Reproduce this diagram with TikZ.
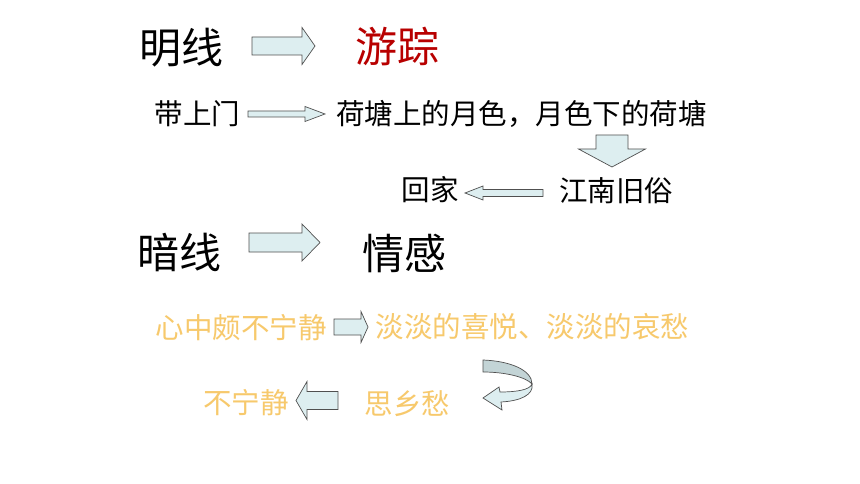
\documentclass[tikz,border=0pt]{standalone}
\usepackage{fontspec}
\newfontfamily\cjk{Noto Sans CJK SC}
\usetikzlibrary{calc}
\definecolor{arrfill}{HTML}{DDEEF0}
\definecolor{arrdark}{HTML}{C3D4D6}
\definecolor{arrline}{HTML}{505050}
\definecolor{redtxt}{HTML}{B80000}
\definecolor{yeltxt}{HTML}{F7C96C}
\tikzset{
  bigtxt/.style={inner sep=0pt, font=\cjk\fontsize{42}{42}\selectfont},
  smalltxt/.style={inner sep=0pt, font=\cjk\fontsize{28.5}{28.5}\selectfont},
  yeltxtstyle/.style={smalltxt, text=yeltxt},
  blockarr/.style={draw=arrline, fill=arrfill, line width=0.7pt, line join=miter},
}
% #2 tail, #3 tip, #4 body half width, #5 head half width, #6 head length
\newcommand\blockarrow[6][]{%
  \coordinate (ba-b) at ($(#3)!#6!(#2)$);
  \draw[blockarr,#1] ($(#2)!#4!90:(#3)$) -- ($(ba-b)!#4!-90:(#2)$)
    -- ($(ba-b)!#5!-90:(#2)$) -- (#3) -- ($(ba-b)!#5!90:(#2)$)
    -- ($(ba-b)!#4!90:(#2)$) -- ($(#2)!#4!-90:(#3)$) -- cycle;}
\begin{document}
\begin{tikzpicture}[x=1pt,y=-1pt]
  \useasboundingbox[fill=white] (0,0) rectangle (860,484);

  % row 1
  \node[bigtxt] (mx) at (181,48) {明线};
  \node[bigtxt, text=redtxt] (yz) at (397.5,46.5) {游踪};
  \coordinate (a1t) at (252,46);  \coordinate (a1h) at (315,46);
  \blockarrow{a1t}{a1h}{9pt}{18.5pt}{13pt}

  % row 2
  \node[smalltxt] (dsm) at (197.5,114) {带上门};
  \node[smalltxt] (ht) at (521.5,114) {荷塘上的月色，月色下的荷塘};
  \coordinate (a2t) at (248,114); \coordinate (a2h) at (325,114);
  \blockarrow{a2t}{a2h}{3pt}{7.5pt}{20pt}

  % down arrow
  \coordinate (a3t) at (612,135); \coordinate (a3h) at (612,167);
  \blockarrow{a3t}{a3h}{16pt}{33.5pt}{18pt}

  % row 3
  \node[smalltxt] (hj) at (430,190) {回家};
  \node[smalltxt] (jn) at (616,191) {江南旧俗};
  \coordinate (a4t) at (543,193); \coordinate (a4h) at (465,193);
  \blockarrow{a4t}{a4h}{3.5pt}{7pt}{18pt}

  % row 4
  \node[bigtxt] (ax) at (179,252.5) {暗线};
  \node[bigtxt] (qg) at (404,253.5) {情感};
  \coordinate (a5t) at (249,242.5); \coordinate (a5h) at (320,242.5);
  \blockarrow{a5t}{a5h}{9.5pt}{18.5pt}{18pt}

  % row 5
  \node[yeltxtstyle] (xz) at (241,327.5) {心中颇不宁静};
  \node[yeltxtstyle] (dd) at (532.5,327) {淡淡的喜悦、淡淡的哀愁};
  \coordinate (a6t) at (334,327); \coordinate (a6h) at (368,327);
  \blockarrow{a6t}{a6h}{8pt}{15.5pt}{7pt}

  % curved arrow
  \draw[blockarr, fill=arrdark] (483,360) .. controls (510,361) and (532,370) .. (532,384)
     .. controls (526,377) and (505,372) .. (483,372) -- cycle;
  \draw[blockarr] (532,384) .. controls (530,390) and (516,392) .. (500,392)
     -- (499,387) -- (483,398) -- (502,410) -- (501,402)
     .. controls (520,401) and (534,395) .. (532,384) -- cycle;

  % row 6
  \node[yeltxtstyle] (bn) at (246,402.5) {不宁静};
  \node[yeltxtstyle] (sx) at (407.5,403.5) {思乡愁};
  \coordinate (a7t) at (338,400.5); \coordinate (a7h) at (296,400.5);
  \blockarrow{a7t}{a7h}{9pt}{19pt}{11pt}
\end{tikzpicture}
\end{document}
